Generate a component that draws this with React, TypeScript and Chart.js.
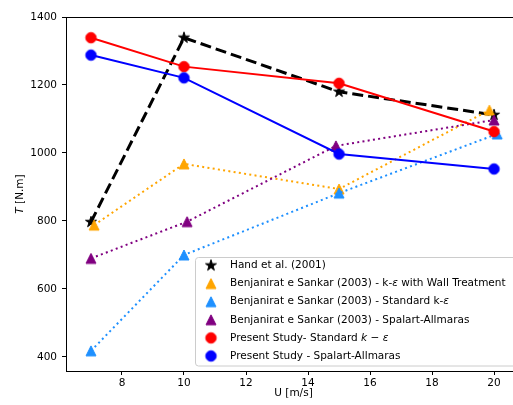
import React, { useEffect, useRef } from 'react';
import { Chart, registerables } from 'chart.js';

Chart.register(...registerables);

// ---- data ----
const handX = [7, 10, 15, 20];
const handT = [797, 1339, 1180, 1112];
const wallX = [7.1, 10, 15, 19.85];
const wallT = [788, 968, 894, 1126];
const stdKeX = [7, 10, 15, 20.1];
const stdKeT = [418, 700, 882, 1056];
const saBX = [7, 10.1, 14.9, 20];
const saBT = [690, 798, 1021, 1097];
const presentX = [7, 10, 15, 20];
const presentKeT = [1339, 1254, 1205, 1063];
const presentSaT = [1288, 1221, 997, 953];
const xTicks = [8, 10, 12, 14, 16, 18, 20];
const yTicks = [400, 600, 800, 1000, 1200, 1400];

type Seg = { t: string; i?: boolean };
const legendLabels: Seg[][] = [
  [{ t: 'Hand et al. (2001)' }],
  [{ t: 'Benjanirat e Sankar (2003) - k-' }, { t: 'ε', i: true }, { t: ' with Wall Treatment' }],
  [{ t: 'Benjanirat e Sankar (2003) - Standard k-' }, { t: 'ε', i: true }],
  [{ t: 'Benjanirat e Sankar (2003) - Spalart-Allmaras' }],
  [{ t: 'Present Study- Standard ' }, { t: 'k', i: true }, { t: ' − ' }, { t: 'ε', i: true }],
  [{ t: 'Present Study - Spalart-Allmaras' }],
];

const FONT = '"DejaVu Sans", sans-serif';
const FS = 10.5;

function makeMarker(shape: string, color: string, size: number): HTMLCanvasElement {
  const s = Math.ceil(size + 4);
  const c = document.createElement('canvas');
  c.width = s;
  c.height = s;
  const ctx = c.getContext('2d')!;
  const cx = s / 2;
  const cy = s / 2;
  const r = size / 2;
  ctx.fillStyle = color;
  ctx.strokeStyle = color;
  ctx.lineWidth = 1;
  ctx.beginPath();
  if (shape === 'circle') {
    ctx.arc(cx, cy, r, 0, Math.PI * 2);
  } else if (shape === 'triangle') {
    ctx.moveTo(cx, cy - r);
    ctx.lineTo(cx + r, cy + r);
    ctx.lineTo(cx - r, cy + r);
    ctx.closePath();
  } else {
    for (let k = 0; k < 10; k++) {
      const a = -Math.PI / 2 + (k * Math.PI) / 5;
      const rr = k % 2 ? r * 0.381966 : r;
      const px = cx + rr * Math.cos(a);
      const py = cy + rr * Math.sin(a);
      if (k === 0) ctx.moveTo(px, py);
      else ctx.lineTo(px, py);
    }
    ctx.closePath();
  }
  ctx.fill();
  ctx.stroke();
  return c;
}

function pts(xs: number[], ys: number[]) {
  return xs.map((x, i) => ({ x, y: ys[i] }));
}

function drawSegs(ctx: CanvasRenderingContext2D, segs: Seg[], x: number, y: number, size: number) {
  let cx = x;
  for (const s of segs) {
    ctx.font = `${s.i ? 'italic ' : ''}${size}px ${FONT}`;
    ctx.fillText(s.t, cx, y);
    cx += ctx.measureText(s.t).width;
  }
}
function segsWidth(ctx: CanvasRenderingContext2D, segs: Seg[], size: number) {
  let w = 0;
  for (const s of segs) {
    ctx.font = `${s.i ? 'italic ' : ''}${size}px ${FONT}`;
    w += ctx.measureText(s.t).width;
  }
  return w;
}

export default function App() {
  const ref = useRef<HTMLCanvasElement | null>(null);

  useEffect(() => {
    if (!ref.current) return;
    const mStar = makeMarker('star', '#000000', 11.5);
    const mOrange = makeMarker('triangle', '#FFA500', 10);
    const mDodger = makeMarker('triangle', '#1E90FF', 10);
    const mPurple = makeMarker('triangle', '#800080', 10);
    const mRed = makeMarker('circle', '#FF0000', 10.5);
    const mBlue = makeMarker('circle', '#0000FF', 10.5);
    const markers = [mStar, mOrange, mDodger, mPurple, mRed, mBlue];

    const decor = {
      id: 'decor',
      afterDraw(chart: any) {
        const ctx: CanvasRenderingContext2D = chart.ctx;
        const a = chart.chartArea;
        ctx.save();
        // top & right spines
        ctx.strokeStyle = '#000';
        ctx.lineWidth = 1;
        ctx.beginPath();
        ctx.moveTo(a.left, Math.round(a.top) + 0.5);
        ctx.lineTo(a.right, Math.round(a.top) + 0.5);
        ctx.moveTo(Math.round(a.right) + 0.5, a.top);
        ctx.lineTo(Math.round(a.right) + 0.5, a.bottom);
        ctx.stroke();

        // axis titles
        ctx.fillStyle = '#000';
        ctx.textBaseline = 'middle';
        ctx.textAlign = 'left';
        const xt: Seg[] = [{ t: 'U [m/s]' }];
        const xw = segsWidth(ctx, xt, FS);
        drawSegs(ctx, xt, (a.left + a.right) / 2 - xw / 2, 393, FS);

        const yt: Seg[] = [{ t: 'T', i: true }, { t: ' [N.m]' }];
        const yw = segsWidth(ctx, yt, FS);
        ctx.save();
        ctx.translate(20, (a.top + a.bottom) / 2);
        ctx.rotate(-Math.PI / 2);
        drawSegs(ctx, yt, -yw / 2, 0, FS);
        ctx.restore();

        // legend
        const bx = 195.5, by = 257.5, bw = 330, bh = 108.5;
        ctx.fillStyle = 'rgba(255,255,255,0.8)';
        ctx.strokeStyle = '#cccccc';
        ctx.beginPath();
        (ctx as any).roundRect(bx, by, bw, bh, 3);
        ctx.fill();
        ctx.stroke();
        ctx.fillStyle = '#000';
        legendLabels.forEach((segs, i) => {
          const yy = 265.5 + i * 18.1;
          const m = markers[i];
          ctx.drawImage(m, 211 - m.width / 2, yy - m.height / 2);
          drawSegs(ctx, segs, 230, yy, FS);
        });
        ctx.restore();
      },
    };

    const tickFont = { family: FONT, size: FS };

    const chart = new Chart(ref.current, {
      type: 'scatter',
      data: {
        datasets: [
          {
            label: 'Hand et al. (2001)',
            data: pts(handX, handT),
            showLine: true,
            borderColor: '#000000',
            backgroundColor: '#000000',
            borderWidth: 3,
            borderDash: [11, 5],
            pointStyle: mStar,
            pointRadius: 6,
            order: 6,
          },
          {
            label: 'wall',
            data: pts(wallX, wallT),
            showLine: true,
            borderColor: '#FFA500',
            backgroundColor: '#FFA500',
            borderWidth: 2,
            borderDash: [2, 3.3],
            pointStyle: mOrange,
            pointRadius: 6,
            order: 5,
          },
          {
            label: 'std',
            data: pts(stdKeX, stdKeT),
            showLine: true,
            borderColor: '#1E90FF',
            backgroundColor: '#1E90FF',
            borderWidth: 2,
            borderDash: [2, 3.3],
            pointStyle: mDodger,
            pointRadius: 6,
            order: 4,
          },
          {
            label: 'sa',
            data: pts(saBX, saBT),
            showLine: true,
            borderColor: '#800080',
            backgroundColor: '#800080',
            borderWidth: 2,
            borderDash: [2, 3.3],
            pointStyle: mPurple,
            pointRadius: 6,
            order: 3,
          },
          {
            label: 'present ke',
            data: pts(presentX, presentKeT),
            showLine: true,
            borderColor: '#FF0000',
            backgroundColor: '#FF0000',
            borderWidth: 2,
            pointStyle: mRed,
            pointRadius: 6,
            order: 2,
          },
          {
            label: 'present sa',
            data: pts(presentX, presentSaT),
            showLine: true,
            borderColor: '#0000FF',
            backgroundColor: '#0000FF',
            borderWidth: 2,
            pointStyle: mBlue,
            pointRadius: 6,
            order: 1,
          },
        ],
      },
      options: {
        animation: false,
        responsive: false,
        devicePixelRatio: 1,
        layout: { padding: { left: 0, top: 17, right: 9, bottom: 0 } },
        plugins: { legend: { display: false }, tooltip: { enabled: false } },
        scales: {
          x: {
            type: 'linear',
            min: 6.194,
            max: 20.87,
            afterFit: (s: any) => {
              s.height = 34;
            },
            afterBuildTicks: (s: any) => {
              s.ticks = xTicks.map((v) => ({ value: v }));
            },
            grid: { drawOnChartArea: false, drawTicks: true, tickLength: 4, color: '#000' },
            border: { display: true, color: '#000', width: 1 },
            ticks: {
              font: tickFont,
              color: '#000',
              padding: 2,
              maxRotation: 0,
              autoSkip: false,
              callback: (v: any) => String(v),
            },
          },
          y: {
            type: 'linear',
            min: 358.8,
            max: 1400,
            afterFit: (s: any) => {
              s.width = 66;
            },
            afterBuildTicks: (s: any) => {
              s.ticks = yTicks.map((v) => ({ value: v }));
            },
            grid: { drawOnChartArea: false, drawTicks: true, tickLength: 4, color: '#000' },
            border: { display: true, color: '#000', width: 1 },
            ticks: {
              font: tickFont,
              color: '#000',
              padding: 5,
              autoSkip: false,
              callback: (v: any) => String(v),
            },
          },
        },
      },
      plugins: [decor],
    } as any);

    return () => chart.destroy();
  }, []);

  return (
    <div
      style={{
        position: 'absolute',
        left: 0,
        top: 0,
        width: 513,
        height: 405,
        overflow: 'hidden',
        background: '#fff',
      }}
    >
      <canvas ref={ref} width={530} height={405} style={{ display: 'block', width: 530, height: 405 }} />
    </div>
  );
}
